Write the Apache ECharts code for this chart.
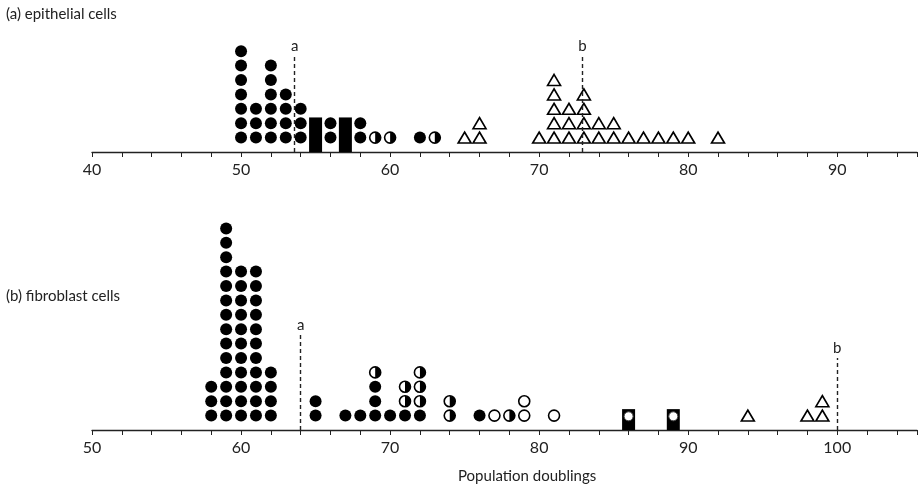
<!DOCTYPE html>
<html>
<head>
<meta charset="utf-8">
<script src="https://cdn.jsdelivr.net/npm/echarts@6/dist/echarts.min.js"></script>
<style>
html, body { margin: 0; padding: 0; background: #fff; }
#chart { width: 920px; height: 494px; }
</style>
</head>
<body>
<div id="chart"></div>
<script>
// (a) epithelial cells - dot columns (x = population doublings, n = stacked count)
var epiFilledX = [50, 51, 52, 53, 54, 56, 58, 62];
var epiFilledN = [7, 3, 6, 4, 3, 2, 2, 1];
var epiHalfX = [59, 60, 63];
var epiHalfN = [1, 1, 1];
var epiBlockX = [55, 57];
var epiBlockH = [2.4, 2.4];
var epiTriX = [65, 66, 70, 71, 72, 73, 74, 75, 76, 77, 78, 79, 80, 82];
var epiTriN = [1, 2, 1, 5, 3, 4, 2, 2, 1, 1, 1, 1, 1, 1];
var epiMarkX = [53.6, 72.9];
var epiMarkTop = [6.7, 6.7];

// (b) fibroblast cells
var fibFilledX = [58, 59, 60, 61, 62, 65, 67, 68, 69, 70, 71, 72, 76];
var fibFilledN = [3, 14, 11, 11, 4, 2, 1, 1, 3, 1, 1, 1, 1];
var fibHalfX = [69, 71, 72, 74, 78];
var fibHalfN = [1, 2, 3, 2, 1];
var fibOpenX = [77, 79, 81];
var fibOpenN = [1, 2, 1];
var fibBlockX = [86, 89];
var fibBlockH = [1.45, 1.45];
var fibTriX = [94, 98, 99];
var fibTriN = [1, 1, 2];
var fibMarkX = [64, 100];
var fibMarkTop = [6.6, 5.0];

var markNames = ['a', 'b'];
var ink = '#000';
var font = 'Lato';

// stack symbols of one column on top of what is already there
function stack(xs, ns, heights) {
    var pts = [];
    xs.forEach(function(x, i){
        var base = heights[x] || 0;
        for (var k = 1; k <= ns[i]; k++) {
            pts.push([x, base + k]);
        }
        heights[x] = base + ns[i];
    });
    return pts;
}

function pairs(xs, ys) {
    return xs.map(function(x, i){ return [x, ys[i]]; });
}

function marks(xs, tops) {
    return xs.map(function(x, i){
        return [{coord: [x, 0], name: markNames[i]}, {coord: [x, tops[i]]}];
    });
}

var halfPath = 'path://M0,0A10,10,0,0,1,0,20Z';

function panelSeries(idx, filled, half, open, blocks, tris, markData) {
    var list = [];
    list.push({
        type: 'bar', xAxisIndex: idx, yAxisIndex: idx, data: blocks,
        barWidth: 13, itemStyle: {color: ink, opacity: 1}, silent: true
    });
    list.push({
        type: 'scatter', xAxisIndex: idx, yAxisIndex: idx, data: filled,
        symbol: 'circle', symbolSize: 12, itemStyle: {color: ink, opacity: 1}, silent: true,
        markLine: {
            symbol: 'none', silent: true,
            lineStyle: {type: [4, 3], color: '#222', width: 1.4},
            label: {show: true, position: 'end', formatter: '{b}', color: '#222',
                    fontFamily: font, fontSize: 15, distance: 2},
            data: markData
        }
    });
    list.push({
        type: 'scatter', xAxisIndex: idx, yAxisIndex: idx, data: half.concat(open),
        symbol: 'circle', symbolSize: 11,
        itemStyle: {color: '#fff', borderColor: ink, borderWidth: 1.6, opacity: 1}, silent: true
    });
    list.push({
        type: 'scatter', xAxisIndex: idx, yAxisIndex: idx, data: half,
        symbol: halfPath, symbolSize: [5.5, 11], symbolOffset: [2.75, 0],
        itemStyle: {color: ink, opacity: 1}, silent: true
    });
    list.push({
        type: 'scatter', xAxisIndex: idx, yAxisIndex: idx, data: tris,
        symbol: 'triangle', symbolSize: [13, 11],
        itemStyle: {color: '#fff', borderColor: ink, borderWidth: 1.6, opacity: 1}, silent: true
    });
    return list;
}

var hA = {}, hB = {};
var epiFilled = stack(epiFilledX, epiFilledN, hA);
var epiHalf = stack(epiHalfX, epiHalfN, hA);
var epiTri = stack(epiTriX, epiTriN, hA);
var fibFilled = stack(fibFilledX, fibFilledN, hB);
var fibHalf = stack(fibHalfX, fibHalfN, hB);
var fibOpen = stack(fibOpenX, fibOpenN, hB);
var fibTri = stack(fibTriX, fibTriN, hB);

// holes in the black squares of panel (b)
var fibHole = fibBlockX.map(function(x){ return [x, 0.95]; });

function xAxisOf(idx, min, max) {
    return {
        type: 'value', gridIndex: idx, min: min, max: max, interval: 2,
        axisLine: {show: true, onZero: false, lineStyle: {color: '#222', width: 1.4}},
        axisTick: {show: true, length: 5, lineStyle: {color: '#222', width: 1}},
        splitLine: {show: false},
        axisLabel: {
            margin: 10, color: '#222', fontFamily: font, fontSize: 16,
            formatter: function(v){ return v % 10 === 0 ? String(v) : ''; }
        }
    };
}

function yAxisOf(idx, max) {
    return {type: 'value', gridIndex: idx, min: 0, max: max, show: false};
}

var series = panelSeries(0, epiFilled, epiHalf, [], pairs(epiBlockX, epiBlockH), epiTri,
                         marks(epiMarkX, epiMarkTop))
    .concat(panelSeries(1, fibFilled, fibHalf, fibOpen, pairs(fibBlockX, fibBlockH), fibTri,
                        marks(fibMarkX, fibMarkTop)));
series.push({
    type: 'scatter', xAxisIndex: 1, yAxisIndex: 1, data: fibHole,
    symbol: 'circle', symbolSize: 9,
    itemStyle: {color: '#fff', borderColor: '#444', borderWidth: 1, opacity: 1},
    silent: true
});

var chart = echarts.init(document.getElementById('chart'), null, {renderer: 'canvas'});
chart.setOption({
    animation: false,
    grid: [
        {left: 92, right: 0, top: 36.8, height: 115.2},
        {left: 92, right: 0, top: 214, height: 216}
    ],
    xAxis: [xAxisOf(0, 40, 95.35), xAxisOf(1, 50, 105.35)],
    yAxis: [yAxisOf(0, 8), yAxisOf(1, 15)],
    graphic: [
        {type: 'text', left: 6, top: 7, style: {text: '(a) epithelial cells', fill: '#222', font: '15px Lato'}},
        {type: 'text', left: 6, top: 289, style: {text: '(b) fibroblast cells', fill: '#222', font: '15px Lato'}},
        {type: 'text', left: 458, top: 469, style: {text: 'Population doublings', fill: '#222', font: '15px Lato'}}
    ],
    series: series
});
</script>
</body>
</html>
